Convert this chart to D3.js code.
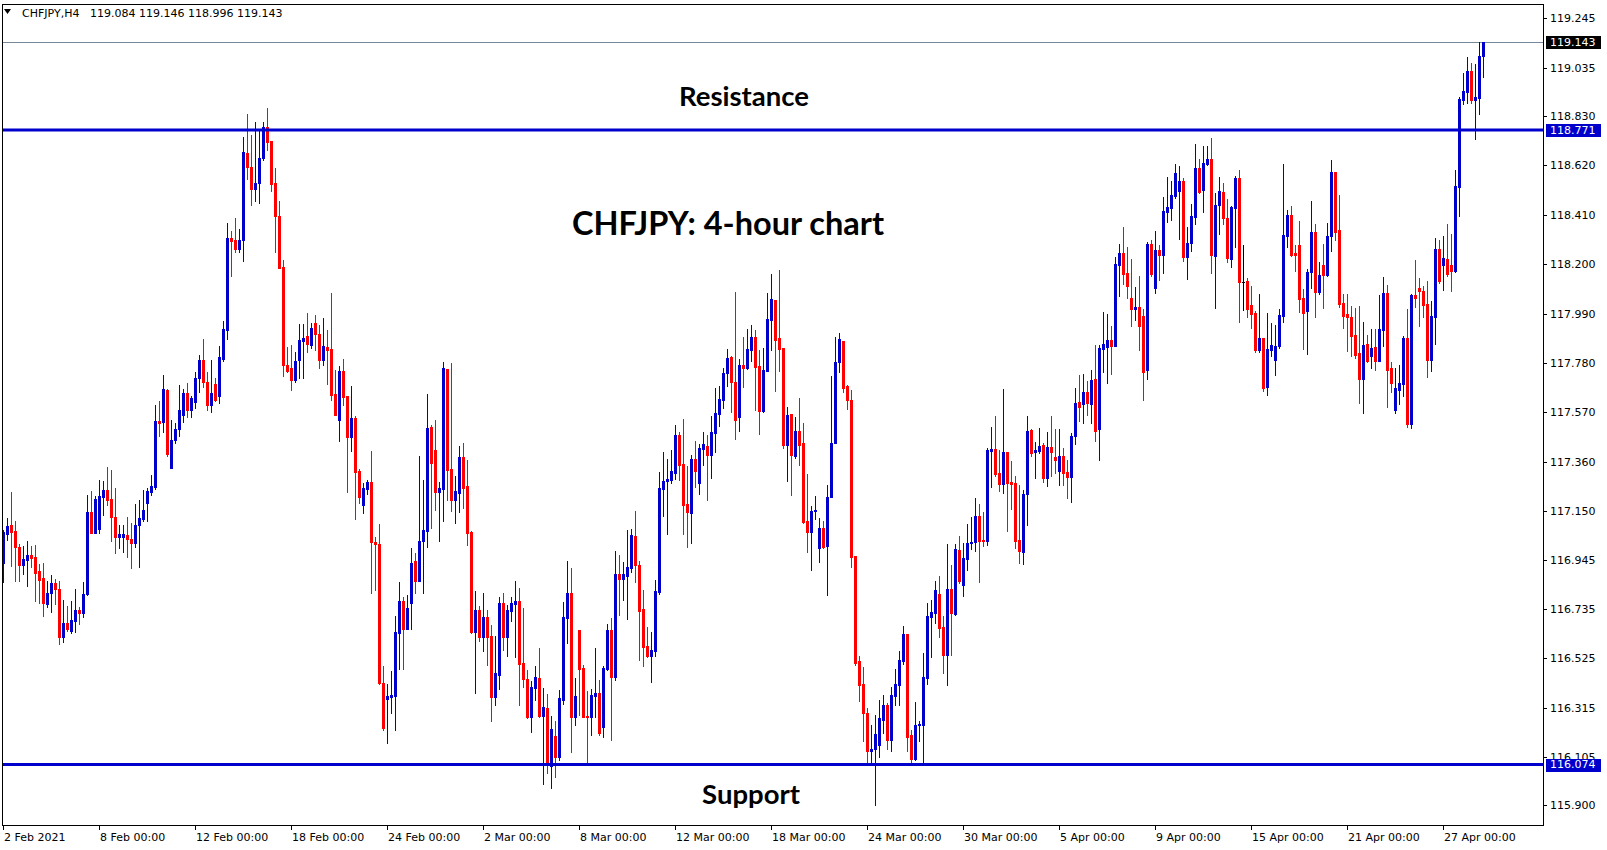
<!DOCTYPE html>
<html><head><meta charset="utf-8">
<script src="https://cdn.jsdelivr.net/npm/d3@7"></script>
<style>html,body{margin:0;padding:0;background:#fff;overflow:hidden;} svg{display:block;}</style>
</head><body>
<svg id="c" width="1607" height="850"></svg>
<script>
// ---- DATA (CHFJPY, H4) ----
const openP = [
116.932,117.054,117.092,117.067,116.999,116.924,116.944,116.965,116.956,116.897,
116.867,116.758,116.801,116.846,116.820,116.618,116.675,116.643,116.686,116.731,
116.720,116.798,117.148,117.060,117.077,117.211,117.241,117.203,117.126,117.039,
117.043,117.050,117.034,117.017,117.092,117.119,117.187,117.233,117.254,117.534,
117.530,117.666,117.336,117.454,117.500,117.560,117.652,117.580,117.614,117.716,
117.794,117.699,117.600,117.692,117.642,117.798,117.921,118.311,118.301,118.265,
118.301,118.672,118.612,118.520,118.545,118.651,118.782,118.722,118.545,118.406,
118.188,117.770,117.758,117.709,117.791,117.872,117.897,117.857,117.950,117.904,
117.794,117.848,117.841,117.649,117.539,117.748,117.638,117.468,117.548,117.322,
117.175,117.247,117.275,117.019,117.010,116.420,116.354,116.363,116.366,116.635,
116.769,116.649,116.760,116.940,116.852,117.022,117.067,117.509,117.411,117.233,
117.247,117.755,117.330,117.199,117.230,117.381,117.258,117.064,116.639,116.731,
116.614,116.699,116.621,116.359,116.455,116.760,116.618,116.728,116.758,116.769,
116.506,116.438,116.278,116.401,116.442,116.282,116.313,116.068,116.196,116.108,
116.349,116.697,116.803,116.278,116.646,116.485,116.281,116.278,116.366,116.378,
116.235,116.480,116.646,116.448,116.884,116.864,116.876,116.910,117.046,116.922,
116.735,116.578,116.536,116.557,116.806,117.245,117.277,117.284,117.315,117.475,
117.352,117.182,117.145,117.373,117.272,117.415,117.428,117.390,117.482,117.564,
117.624,117.738,117.806,117.700,117.551,117.772,117.759,117.836,117.891,117.768,
117.577,117.747,117.964,118.049,117.887,117.845,117.432,117.564,117.386,117.492,
117.441,117.109,117.063,117.152,116.995,117.080,117.003,117.211,117.441,117.785,
117.874,117.684,117.624,116.961,116.512,116.417,116.294,116.133,116.138,116.159,
116.265,116.328,116.180,116.367,116.414,116.516,116.629,116.200,116.099,116.240,
116.244,116.443,116.703,116.717,116.799,116.659,116.541,116.820,116.714,116.986,
116.835,116.949,117.016,117.021,117.131,117.029,117.026,117.408,117.415,117.313,
117.267,117.403,117.275,117.271,117.029,116.979,117.224,117.496,117.403,117.407,
117.432,117.292,117.424,117.381,117.322,117.386,117.318,117.296,117.471,117.615,
117.607,117.658,117.607,117.713,117.500,117.840,117.849,117.879,117.853,118.197,
118.248,118.163,118.057,118.010,118.019,117.981,117.751,118.287,118.100,118.261,
118.240,118.423,118.440,118.491,118.512,118.554,118.231,118.291,118.401,118.610,
118.516,118.627,118.648,118.236,118.452,118.507,118.397,118.223,118.440,118.567,
118.125,118.129,118.027,117.993,117.836,117.887,117.680,117.836,117.794,117.853,
117.981,118.321,118.410,118.248,118.282,118.057,118.003,118.165,118.338,118.084,
118.197,118.155,118.318,118.593,118.346,118.036,117.989,117.976,117.900,117.823,
117.714,117.862,117.812,117.849,117.789,117.921,118.078,117.760,117.581,117.666,
117.692,117.887,117.522,118.070,118.100,118.087,118.032,117.794,117.974,118.265,
118.195,118.223,118.198,118.172,118.529,118.899,118.933,119.022,118.899,118.907,
119.084];
const highP = [
117.071,117.121,117.231,117.109,117.012,117.003,117.024,117.003,117.007,116.927,
116.931,116.854,116.880,116.863,116.854,116.774,116.748,116.769,116.820,116.744,
116.850,117.220,117.237,117.216,117.284,117.279,117.339,117.326,117.250,117.092,
117.092,117.126,117.101,117.182,117.199,117.241,117.250,117.305,117.602,117.619,
117.730,117.670,117.539,117.525,117.687,117.670,117.695,117.640,117.744,117.815,
117.883,117.740,117.794,117.716,117.853,117.959,118.377,118.342,118.397,118.350,
118.739,118.839,118.750,118.804,118.767,118.804,118.863,118.724,118.611,118.469,
118.219,117.850,117.857,117.829,117.945,117.945,117.992,117.952,117.985,117.942,
117.971,117.921,118.077,117.751,117.768,117.798,117.640,117.683,117.556,117.330,
117.269,117.284,117.407,117.041,117.097,116.493,116.417,116.473,116.706,116.850,
116.784,116.795,116.996,116.972,117.386,117.284,117.649,117.517,117.539,117.275,
117.785,117.755,117.781,117.301,117.428,117.441,117.369,117.068,116.812,116.748,
116.801,116.731,116.665,116.621,116.784,116.802,116.752,116.788,116.854,116.825,
116.740,116.476,116.429,116.493,116.570,116.400,116.374,116.281,116.260,116.391,
116.765,116.939,116.910,116.442,116.646,116.497,116.387,116.396,116.570,116.434,
116.493,116.672,116.697,116.982,116.965,116.935,117.071,117.075,117.152,116.939,
116.816,116.660,116.638,116.859,117.318,117.403,117.373,117.410,117.517,117.488,
117.543,117.343,117.390,117.449,117.438,117.488,117.475,117.556,117.675,117.683,
117.760,117.840,117.811,118.083,117.798,117.891,117.925,117.942,117.921,117.836,
117.845,118.078,118.159,118.049,118.176,117.845,117.594,117.564,117.551,117.632,
117.526,117.309,117.173,117.216,117.122,117.109,117.262,117.726,117.891,117.908,
117.874,117.687,117.666,116.961,116.536,116.490,116.315,116.240,116.285,116.349,
116.370,116.336,116.404,116.480,116.557,116.663,116.629,116.221,116.340,116.260,
116.546,116.761,116.774,116.854,116.876,116.706,117.012,116.922,117.012,117.046,
117.016,117.097,117.126,117.207,117.182,117.148,117.418,117.510,117.557,117.411,
117.670,117.403,117.364,117.301,117.262,117.241,117.556,117.500,117.445,117.505,
117.441,117.488,117.556,117.500,117.500,117.420,117.369,117.483,117.675,117.730,
117.734,117.704,117.751,117.857,117.857,117.998,117.989,117.938,118.231,118.287,
118.359,118.274,118.223,118.104,118.151,118.010,118.295,118.304,118.342,118.282,
118.486,118.571,118.554,118.627,118.618,118.567,118.359,118.457,118.712,118.648,
118.703,118.703,118.737,118.503,118.571,118.546,118.478,118.448,118.576,118.601,
118.282,118.142,118.108,118.002,118.074,117.887,117.993,117.951,117.942,118.010,
118.627,118.431,118.448,118.282,118.384,118.095,118.180,118.469,118.372,118.210,
118.287,118.376,118.644,118.593,118.495,118.074,118.074,118.023,118.015,118.023,
117.955,117.900,117.925,117.925,118.070,118.146,118.112,117.785,117.760,117.772,
117.896,118.010,118.074,118.219,118.142,118.108,118.129,118.044,118.312,118.304,
118.321,118.372,118.329,118.601,118.910,119.014,119.082,119.056,119.052,119.145,
119.146];
const lowP = [
116.851,117.029,116.919,116.856,116.856,116.884,116.834,116.914,116.771,116.762,
116.707,116.745,116.724,116.758,116.588,116.594,116.643,116.635,116.639,116.673,
116.703,116.795,117.056,117.060,117.060,117.135,117.179,117.026,116.971,116.995,
116.979,116.954,116.911,117.000,116.915,117.109,117.111,117.220,117.245,117.472,
117.488,117.386,117.336,117.440,117.470,117.530,117.550,117.550,117.590,117.659,
117.680,117.580,117.570,117.617,117.610,117.787,117.883,118.151,118.254,118.254,
118.212,118.563,118.450,118.467,118.462,118.644,118.686,118.513,118.254,118.186,
117.723,117.741,117.666,117.699,117.716,117.716,117.829,117.843,117.836,117.761,
117.770,117.690,117.621,117.560,117.451,117.602,117.234,117.407,117.119,117.184,
117.141,117.223,116.805,116.815,116.415,116.221,116.165,116.295,116.219,116.482,
116.479,116.649,116.651,116.802,116.852,116.802,117.000,117.078,117.156,117.022,
117.107,117.199,117.153,117.102,117.146,117.166,117.007,116.635,116.376,116.597,
116.558,116.495,116.257,116.325,116.397,116.561,116.536,116.686,116.533,116.325,
116.405,116.270,116.214,116.349,116.275,115.992,116.037,115.976,116.019,116.094,
116.332,116.592,116.129,116.243,116.285,116.274,116.073,116.200,116.278,116.200,
116.193,116.476,116.179,116.434,116.710,116.774,116.693,116.893,116.850,116.519,
116.493,116.530,116.425,116.536,116.800,117.131,117.054,117.272,117.288,117.284,
117.054,117.000,117.016,117.255,117.224,117.347,117.199,117.292,117.403,117.513,
117.590,117.683,117.573,117.458,117.492,117.679,117.755,117.789,117.581,117.479,
117.573,117.747,117.836,117.662,117.747,117.420,117.279,117.220,117.377,117.347,
117.101,116.978,116.901,117.118,116.935,116.995,116.795,117.211,117.441,117.740,
117.655,117.585,116.915,116.497,116.346,116.172,116.073,116.073,115.900,116.104,
116.210,116.142,116.133,116.329,116.329,116.503,116.133,116.082,116.095,116.172,
116.082,116.418,116.529,116.677,116.618,116.461,116.410,116.541,116.710,116.845,
116.791,116.901,116.990,116.982,116.850,117.003,117.007,117.255,117.301,117.237,
117.228,117.067,117.160,116.996,116.932,116.928,117.090,117.386,117.292,117.398,
117.275,117.258,117.301,117.313,117.262,117.262,117.207,117.190,117.437,117.534,
117.526,117.560,117.526,117.449,117.369,117.743,117.696,117.734,117.853,118.066,
118.117,118.057,117.938,117.964,117.836,117.624,117.713,118.150,118.078,118.134,
118.163,118.380,118.389,118.482,118.308,118.214,118.138,118.257,118.372,118.503,
118.423,118.620,118.163,118.015,118.329,118.372,118.210,118.189,118.274,117.955,
118.006,117.976,117.930,117.828,117.828,117.663,117.646,117.811,117.730,117.845,
117.955,118.274,118.233,118.173,117.998,117.840,117.819,118.100,117.974,118.074,
118.012,118.151,118.258,118.301,118.020,117.931,117.832,117.808,117.802,117.612,
117.566,117.785,117.760,117.751,117.789,117.853,117.594,117.658,117.568,117.607,
117.641,117.510,117.506,118.019,117.938,117.976,117.721,117.747,117.862,118.120,
118.091,118.150,118.087,118.165,118.406,118.882,118.886,118.886,118.733,118.839,
118.996];
const closeP = [
117.064,117.088,117.064,117.000,116.924,116.948,116.965,116.952,116.890,116.859,
116.762,116.803,116.846,116.818,116.618,116.675,116.648,116.687,116.731,116.720,
116.798,117.148,117.060,117.203,117.216,117.241,117.200,117.124,117.039,117.054,
117.054,117.034,117.017,117.092,117.122,117.156,117.237,117.258,117.534,117.526,
117.670,117.394,117.454,117.500,117.580,117.652,117.580,117.631,117.716,117.794,
117.699,117.600,117.652,117.624,117.805,117.925,118.311,118.297,118.265,118.304,
118.676,118.612,118.518,118.545,118.651,118.782,118.719,118.542,118.407,118.186,
117.770,117.747,117.709,117.789,117.879,117.886,117.860,117.928,117.903,117.794,
117.853,117.836,117.645,117.560,117.748,117.634,117.468,117.548,117.319,117.209,
117.248,117.275,117.019,117.010,116.422,116.231,116.366,116.371,116.639,116.769,
116.649,116.738,116.931,116.852,117.024,117.071,117.505,117.357,117.231,117.248,
117.760,117.326,117.199,117.237,117.381,117.251,117.060,116.639,116.731,116.614,
116.703,116.618,116.359,116.465,116.760,116.618,116.731,116.761,116.769,116.503,
116.439,116.278,116.404,116.446,116.282,116.319,116.073,116.224,116.108,116.356,
116.701,116.803,116.278,116.366,116.482,116.278,116.278,116.370,116.378,116.206,
116.485,116.646,116.448,116.884,116.864,116.884,116.914,117.050,116.920,116.727,
116.574,116.536,116.561,116.812,117.248,117.281,117.288,117.322,117.475,117.347,
117.177,117.149,117.373,117.323,117.420,117.437,117.390,117.488,117.568,117.628,
117.738,117.802,117.700,117.539,117.772,117.759,117.840,117.891,117.764,117.577,
117.751,117.968,118.053,117.879,117.840,117.432,117.560,117.390,117.492,117.432,
117.105,117.063,117.152,117.156,117.080,117.000,117.211,117.441,117.785,117.883,
117.676,117.621,116.958,116.507,116.414,116.291,116.133,116.140,116.204,116.272,
116.328,116.180,116.370,116.417,116.519,116.629,116.193,116.099,116.243,116.247,
116.446,116.706,116.723,116.816,116.656,116.541,116.820,116.716,116.990,116.852,
116.952,117.016,117.021,117.131,117.024,117.024,117.411,117.415,117.309,117.267,
117.403,117.270,117.267,117.026,116.983,117.224,117.492,117.400,117.411,117.428,
117.292,117.424,117.403,117.369,117.386,117.313,117.296,117.471,117.611,117.594,
117.658,117.611,117.709,117.492,117.845,117.862,117.879,117.853,118.202,118.248,
118.159,118.108,118.010,118.019,117.938,117.744,118.287,118.159,118.261,118.240,
118.427,118.444,118.495,118.588,118.554,118.231,118.291,118.406,118.610,118.507,
118.631,118.648,118.240,118.452,118.512,118.397,118.227,118.444,118.567,118.125,
118.125,118.010,117.989,117.836,117.887,117.676,117.840,117.857,117.853,117.985,
118.325,118.410,118.240,118.240,118.054,117.991,118.168,118.338,118.084,118.155,
118.155,118.321,118.593,118.339,118.029,117.978,117.974,117.897,117.815,117.714,
117.857,117.789,117.845,117.789,117.925,118.078,117.751,117.696,117.675,117.696,
117.887,117.522,118.070,118.057,118.087,118.027,117.794,117.981,118.265,118.129,
118.227,118.159,118.172,118.533,118.903,118.937,119.022,118.899,118.912,119.086,
119.143];

const priceTicks = [119.245,119.035,118.830,118.620,118.410,118.200,117.990,117.780,117.570,117.360,117.150,116.945,116.735,116.525,116.315,116.105,115.900];
const timeLabels = ["2 Feb 2021","8 Feb 00:00","12 Feb 00:00","18 Feb 00:00","24 Feb 00:00","2 Mar 00:00","8 Mar 00:00","12 Mar 00:00","18 Mar 00:00","24 Mar 00:00","30 Mar 00:00","5 Apr 00:00","9 Apr 00:00","15 Apr 00:00","21 Apr 00:00","27 Apr 00:00"];
const timeLabelBars = [0,24,48,72,96,120,144,168,192,216,240,264,288,312,336,360];
const levelValues = [118.771, 116.074];
const levelNames = ["Resistance","Support"];
const lastPrice = 119.143;
const headerSymbol = "CHFJPY,H4";
const headerOHLC = "119.084 119.146 118.996 119.143";
const chartTitle = "CHFJPY: 4-hour chart";

// ---- LAYOUT ----
const L = 2, R = 1543, T = 4, B = 825;
const BLUE = "#0000cd", RED = "#ff0000";
const svg = d3.select("#c");
const n = openP.length;
const x = d3.scaleLinear().domain([0, n - 1]).range([3, 3 + 4 * (n - 1)]);
const y = d3.scaleLinear().domain([115.817, 119.306]).range([B, T]);

svg.append("rect").attr("width",1607).attr("height",850).attr("fill","#fff");
svg.append("clipPath").attr("id","plot").append("rect")
  .attr("x",L).attr("y",T).attr("width",R-L).attr("height",B-T);

const g = svg.append("g").attr("clip-path","url(#plot)");

// current price line
g.append("line").attr("x1",L).attr("x2",R)
  .attr("y1",Math.round(y(lastPrice))+0.5).attr("y2",Math.round(y(lastPrice))+0.5)
  .attr("stroke","#778899").attr("stroke-width",1);

// candles
const idx = d3.range(n);
const col = i => closeP[i] > openP[i] ? BLUE : (closeP[i] < openP[i] ? RED : "#000");
const cg = g.append("g").attr("shape-rendering","crispEdges");
cg.selectAll("rect.w").data(idx).join("rect").attr("class","w")
  .attr("x", i => Math.round(x(i)))
  .attr("width",1)
  .attr("y", i => Math.round(y(highP[i])))
  .attr("height", i => Math.max(1, Math.round(y(lowP[i])) - Math.round(y(highP[i])) + 1))
  .attr("fill", col);
cg.selectAll("rect.b").data(idx).join("rect").attr("class","b")
  .attr("x", i => Math.round(x(i)) - 1)
  .attr("width",3)
  .attr("y", i => Math.round(y(Math.max(openP[i],closeP[i]))))
  .attr("height", i => Math.max(1, Math.round(y(Math.min(openP[i],closeP[i]))) - Math.round(y(Math.max(openP[i],closeP[i]))) + 1))
  .attr("fill", col);

// support / resistance lines
g.selectAll("line.lvl").data(levelValues).join("line").attr("class","lvl")
  .attr("x1",L).attr("x2",R)
  .attr("y1",d=>y(d)).attr("y2",d=>y(d))
  .attr("stroke",BLUE).attr("stroke-width",3);

// frame
const fr = svg.append("g").attr("shape-rendering","crispEdges");
fr.append("rect").attr("x",L+0.5).attr("y",T+0.5).attr("width",R-L).attr("height",B-T)
  .attr("fill","none").attr("stroke","#000").attr("stroke-width",1);

// price axis
const axisFont = "'DejaVu Sans', Verdana, sans-serif";
const pa = svg.append("g").attr("font-family",axisFont).attr("font-size",11).attr("fill","#000");
pa.selectAll("line").data(priceTicks).join("line")
  .attr("x1",R).attr("x2",R+4)
  .attr("y1",d=>Math.round(y(d))+0.5).attr("y2",d=>Math.round(y(d))+0.5)
  .attr("stroke","#000").attr("shape-rendering","crispEdges");
pa.selectAll("text").data(priceTicks).join("text")
  .attr("x",R+7).attr("y",d=>y(d)).attr("dy","0.36em")
  .text(d=>d.toFixed(3));

// price boxes
const boxes = [{v:lastPrice, bg:"#000"}, {v:levelValues[0], bg:BLUE}, {v:levelValues[1], bg:BLUE}];
const bx = svg.append("g").attr("font-family",axisFont).attr("font-size",11);
bx.selectAll("rect").data(boxes).join("rect")
  .attr("x",R+3).attr("width",55).attr("y",d=>Math.round(y(d.v))-6).attr("height",13)
  .attr("fill",d=>d.bg).attr("shape-rendering","crispEdges");
bx.selectAll("text").data(boxes).join("text")
  .attr("x",R+7).attr("y",d=>y(d.v)).attr("dy","0.36em").attr("fill","#fff")
  .text(d=>d.v.toFixed(3));

// time axis
const ta = svg.append("g").attr("font-family",axisFont).attr("font-size",11).attr("fill","#000");
ta.selectAll("line").data(timeLabelBars).join("line")
  .attr("x1",d=>Math.round(x(d))+0.5).attr("x2",d=>Math.round(x(d))+0.5)
  .attr("y1",B).attr("y2",B+5)
  .attr("stroke","#000").attr("shape-rendering","crispEdges");
ta.selectAll("text").data(timeLabels).join("text")
  .attr("x",(d,i)=>Math.round(x(timeLabelBars[i]))+1).attr("y",B+16)
  .text(d=>d);

// header
svg.append("path").attr("d","M4,9 L11,9 L7.5,14 Z").attr("fill","#000");
svg.append("text").attr("x",22).attr("y",17).attr("font-family",axisFont).attr("font-size",11)
  .text(headerSymbol);
svg.append("text").attr("x",90).attr("y",17).attr("font-family",axisFont).attr("font-size",11)
  .text(headerOHLC);

// annotations
const annFont = "Lato, 'Open Sans', sans-serif";
svg.append("text").attr("x",744).attr("y",106).attr("text-anchor","middle")
  .attr("font-family",annFont).attr("font-weight","bold").attr("font-size",27.5).text(levelNames[0]);
svg.append("text").attr("x",728).attr("y",235).attr("text-anchor","middle")
  .attr("font-family",annFont).attr("font-weight","bold").attr("font-size",32.5).text(chartTitle);
svg.append("text").attr("x",751).attr("y",804).attr("text-anchor","middle")
  .attr("font-family",annFont).attr("font-weight","bold").attr("font-size",27.5).text(levelNames[1]);
</script>
</body></html>
